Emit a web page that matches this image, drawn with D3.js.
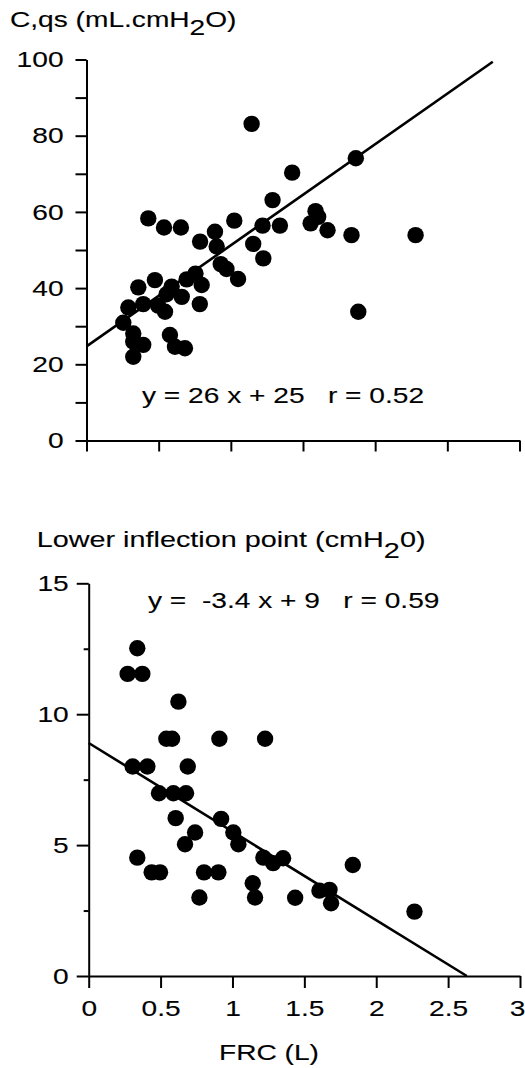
<!DOCTYPE html>
<html><head><meta charset="utf-8">
<script src="https://cdn.jsdelivr.net/npm/d3@7"></script>
<style>
html,body{margin:0;padding:0;background:#fff;}
text{font-family:"Liberation Sans",Arial,Helvetica,sans-serif;fill:#000;stroke:#000;stroke-width:0.12px;}
</style>
</head><body>
<svg id="chart" width="525" height="1068"></svg>
<script>
// ---------- data ----------
const xTickValues = [0, 0.5, 1, 1.5, 2, 2.5, 3];
const xTickLabels = ["0", "0.5", "1", "1.5", "2", "2.5", "3"];

const topYTickValues = [0, 10, 20, 30, 40, 50, 60, 70, 80, 90, 100];
const topYTickLabels = ["0", "", "20", "", "40", "", "60", "", "80", "", "100"];
const topTitle = ["C,qs (mL.cmH", "2", "O)"];
const topEquation = "y = 26 x + 25   r = 0.52";
const topFRC = [0.255, 0.29, 0.324, 0.324, 0.324, 0.393, 0.359, 0.393, 0.428, 0.474, 0.497, 0.544, 0.537, 0.555, 0.59, 0.578, 0.613, 0.682, 0.654, 0.66, 0.694, 0.755, 0.798, 0.785, 0.787, 0.89, 0.902, 0.93, 0.97, 1.05, 1.024, 1.144, 1.155, 1.225, 1.22, 1.289, 1.34, 1.425, 1.553, 1.587, 1.605, 1.67, 1.836, 1.866, 1.883, 2.28];
const topCqs = [30.9, 34.9, 28.1, 25.9, 22.0, 25.1, 40.2, 35.8, 58.3, 42.1, 35.4, 33.8, 55.9, 38.4, 40.4, 27.7, 24.6, 24.2, 55.9, 37.7, 42.3, 43.8, 40.8, 35.8, 52.2, 54.8, 50.9, 46.3, 45.0, 42.4, 57.7, 83.1, 51.6, 47.8, 56.4, 63.1, 56.4, 70.3, 57.0, 60.2, 58.7, 55.2, 53.9, 74.1, 33.8, 53.9];
const topLineX = [0, 2.815];
const topLineY = [24.7, 99.4];

const botYTickValues = [0, 2.5, 5, 7.5, 10, 12.5, 15];
const botYTickLabels = ["0", "", "5", "", "10", "", "15"];
const botTitle = ["Lower inflection point (cmH", "2", "0)"];
const botEquation = "y =  -3.4 x + 9   r = 0.59";
const botFRC = [0.271, 0.373, 0.338, 0.624, 0.54, 0.58, 0.909, 1.227, 0.306, 0.408, 0.689, 0.489, 0.589, 0.677, 0.605, 0.921, 0.74, 0.67, 1.006, 1.041, 1.215, 1.283, 1.352, 0.338, 0.438, 0.496, 0.802, 0.902, 0.77, 1.141, 1.157, 1.436, 1.605, 1.675, 1.686, 1.837, 2.266];
const botLIP = [11.54, 11.54, 12.52, 10.48, 9.06, 9.06, 9.06, 9.06, 8.0, 8.0, 8.0, 6.98, 6.98, 6.98, 6.03, 6.0, 5.48, 5.03, 5.48, 5.03, 4.52, 4.31, 4.5, 4.52, 3.96, 3.96, 3.96, 3.96, 3.0, 3.54, 3.0, 2.99, 3.26, 3.29, 2.78, 4.24, 2.46];
const botLineX = [0, 2.63];
const botLineY = [8.9, 0];
const xAxisTitle = "FRC (L)";

// ---------- layout ----------
const SX = 1.25;      // horizontal stretch of the lettering
const FS = 22.5;
const svg = d3.select("#chart");
svg.append("rect").attr("width", 525).attr("height", 1068).attr("fill", "#fff");

function addText(x, y, parts, anchor, subShift, sx) {
  const s = sx || SX;
  const g = svg.append("g").attr("transform", `translate(${x},${y}) scale(${s},1)`);
  const t = g.append("text").attr("font-size", FS).attr("text-anchor", anchor || "start")
    .style("white-space", "pre");
  if (typeof parts === "string") { t.text(parts); return; }
  t.append("tspan").text(parts[0]);
  t.append("tspan").attr("dy", subShift).text(parts[1]);
  t.append("tspan").attr("dy", -subShift).text(parts[2]);
}

function styleAxis(g) {
  g.selectAll("path.domain").attr("stroke", "#000").attr("stroke-width", 2);
  g.selectAll(".tick line").attr("stroke", "#000").attr("stroke-width", 2);
  g.selectAll(".tick text").attr("font-size", FS).attr("font-family", "Liberation Sans, Arial, sans-serif").attr("fill", "#000");
}

function panel(cfg) {
  const x = d3.scaleLinear().domain([0, 3]).range(cfg.xr);
  const y = d3.scaleLinear().domain(cfg.yd).range(cfg.yr);

  // regression line
  const lineData = cfg.lx.map((v, i) => [v, cfg.ly[i]]);
  svg.append("path").datum(lineData)
    .attr("d", d3.line().x(d => x(d[0])).y(d => y(d[1])))
    .attr("fill", "none").attr("stroke", "#000").attr("stroke-width", 2.6);

  // points
  svg.append("g").selectAll("circle").data(cfg.px.map((v, i) => [v, cfg.py[i]]))
    .join("circle").attr("cx", d => x(d[0])).attr("cy", d => y(d[1])).attr("r", 8.2).attr("fill", "#000");

  // y axis
  const gy = svg.append("g").attr("transform", `translate(${cfg.xr[0]},0)`)
    .call(d3.axisLeft(y).tickValues(cfg.yTicks).tickSize(cfg.yTickLen).tickSizeOuter(0)
      .tickFormat((d, i) => cfg.yLabels[i]));
  styleAxis(gy);
  gy.selectAll(".tick text").attr("x", cfg.yLabelOffset / SX).attr("transform", `scale(${SX},1)`);
  if (cfg.minorLen) {
    gy.selectAll(".tick line").filter((d, i) => cfg.yLabels[i] === "").attr("x2", -cfg.minorLen);
  }

  // x axis
  const gx = svg.append("g").attr("transform", `translate(0,${cfg.yr[0]})`)
    .call(d3.axisBottom(x).tickValues(xTickValues).tickSize(cfg.xTickLen).tickSizeOuter(0)
      .tickFormat((d, i) => cfg.showX ? xTickLabels[i] : ""));
  styleAxis(gx);
  gx.selectAll(".tick text").attr("y", 40.5).attr("dy", 0).attr("transform", `scale(${SX},1)`)
    .attr("x", 0);
  // keep the last label inside the page edge
  gx.selectAll(".tick text").filter((d, i) => i === xTickValues.length - 1)
    .attr("text-anchor", "end").attr("x", (525 - x(3)) / SX);
}

panel({
  xr: [86.5, 519.5], yd: [0, 100], yr: [440.5, 59.5],
  yTicks: topYTickValues, yLabels: topYTickLabels, yTickLen: 11, yLabelOffset: -23,
  xTickLen: 11, showX: false,
  px: topFRC, py: topCqs, lx: topLineX, ly: topLineY
});

panel({
  xr: [88.7, 520], yd: [0, 15], yr: [976, 583.3],
  yTicks: botYTickValues, yLabels: botYTickLabels, yTickLen: 12, minorLen: 5, yLabelOffset: -20,
  xTickLen: 12, showX: true,
  px: botFRC, py: botLIP, lx: botLineX, ly: botLineY
});

addText(10, 27.3, topTitle, "start", 8);
addText(142, 403.3, topEquation, "start");
addText(36.7, 546.7, botTitle, "start", 11.5, 1.28);
addText(148, 608.3, botEquation, "start");
addText(269, 1060, xAxisTitle, "middle");
</script>
</body></html>
